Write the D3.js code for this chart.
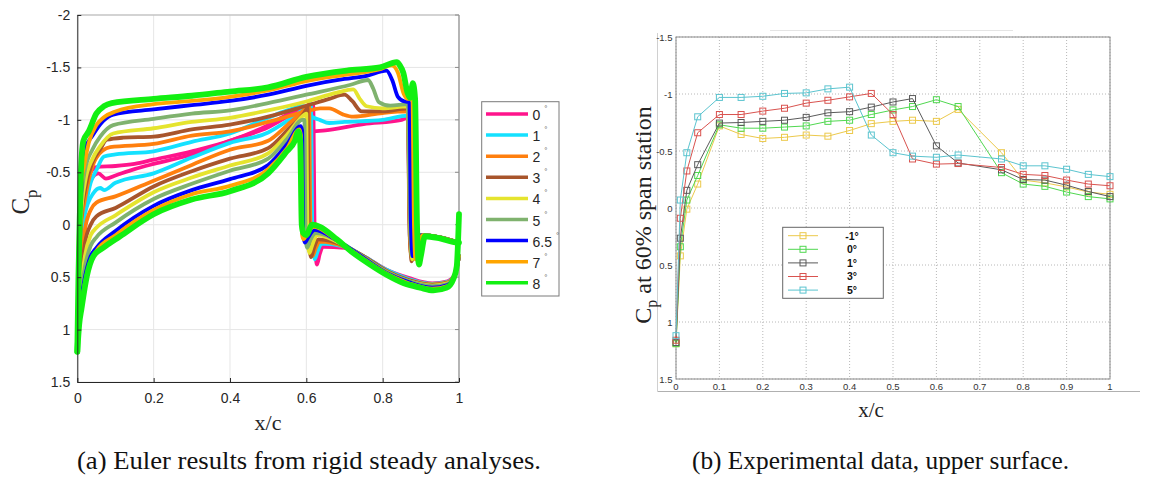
<!DOCTYPE html>
<html>
<head>
<meta charset="utf-8">
<script src="https://cdn.jsdelivr.net/npm/d3@7"></script>
<style>
  body { margin: 0; background: #fff; }
  svg { display: block; }
</style>
</head>
<body>
<svg id="fig" width="1156" height="482"></svg>
<script>
// ---------- (a) Euler results: Cp along x/c, one loop per angle of attack ----------
const eulerAngles = ["0", "1", "2", "3", "4", "5", "6.5", "7", "8"];
const eulerColors = ["#ff148c", "#14e1ff", "#ff7f0e", "#a8552c", "#e5e42e", "#7fb26e", "#0000ff", "#ffa500", "#12f012"];

// upper surface [x/c, Cp]
const upper0 = [[0,1.2],[0.004,0.6],[0.01,0.05],[0.02,-0.3],[0.035,-0.5],[0.05,-0.55],[0.1,-0.56],[0.15,-0.58],[0.2,-0.62],[0.3,-0.7],[0.4,-0.8],[0.5,-0.95],[0.55,-1.05],[0.6,-1.12],[0.607,-1.12],[0.615,-0.89],[0.65,-0.9],[0.75,-0.96],[0.85,-1.0],[0.866,-1.02],[0.871,0.1],[0.876,0.28],[0.882,0.2],[0.895,0.1],[0.95,0.12],[1.0,0.17]];
const upper1 = [[0,1.2],[0.004,0.55],[0.01,0.0],[0.02,-0.15],[0.035,-0.4],[0.05,-0.52],[0.07,-0.65],[0.1,-0.67],[0.2,-0.7],[0.3,-0.79],[0.4,-0.87],[0.5,-1.02],[0.55,-1.09],[0.59,-1.13],[0.605,-1.1],[0.615,-1.03],[0.635,-1.0],[0.66,-0.97],[0.7,-0.98],[0.8,-1.0],[0.866,-1.04],[0.871,0.1],[0.877,0.3],[0.884,0.2],[0.897,0.1],[0.95,0.12],[1.0,0.17]];
const upper2 = [[0,1.2],[0.004,0.5],[0.01,0.0],[0.02,-0.24],[0.035,-0.5],[0.05,-0.64],[0.086,-0.74],[0.2,-0.77],[0.3,-0.85],[0.4,-0.89],[0.5,-0.98],[0.6,-1.08],[0.636,-1.11],[0.66,-1.11],[0.697,-1.05],[0.723,-1.03],[0.8,-1.065],[0.866,-1.08],[0.87,0.0],[0.874,0.27],[0.882,0.2],[0.897,0.1],[0.95,0.12],[1.0,0.17]];
const upper3 = [[0,1.2],[0.004,0.45],[0.01,-0.05],[0.02,-0.33],[0.04,-0.6],[0.06,-0.72],[0.077,-0.81],[0.12,-0.83],[0.2,-0.84],[0.3,-0.91],[0.4,-0.955],[0.5,-1.03],[0.6,-1.135],[0.66,-1.2],[0.7,-1.24],[0.72,-1.18],[0.745,-1.08],[0.8,-1.08],[0.866,-1.11],[0.871,0.0],[0.876,0.35],[0.884,0.25],[0.9,0.1],[0.95,0.12],[1.0,0.17]];
const upper4 = [[0,1.2],[0.004,0.4],[0.01,-0.1],[0.02,-0.4],[0.04,-0.63],[0.06,-0.75],[0.094,-0.87],[0.2,-0.92],[0.3,-0.98],[0.4,-1.02],[0.5,-1.09],[0.6,-1.175],[0.68,-1.26],[0.723,-1.29],[0.74,-1.2],[0.758,-1.13],[0.8,-1.11],[0.866,-1.13],[0.872,0.0],[0.878,0.33],[0.886,0.22],[0.9,0.1],[0.95,0.12],[1.0,0.17]];
const upper5 = [[0,1.2],[0.004,0.3],[0.01,-0.2],[0.02,-0.52],[0.04,-0.72],[0.06,-0.84],[0.094,-0.95],[0.2,-1.01],[0.3,-1.06],[0.4,-1.09],[0.5,-1.16],[0.6,-1.24],[0.716,-1.335],[0.762,-1.38],[0.775,-1.3],[0.79,-1.17],[0.82,-1.135],[0.866,-1.15],[0.872,0.0],[0.877,0.3],[0.885,0.22],[0.9,0.1],[0.95,0.12],[1.0,0.17]];
const upper65 = [[0,1.2],[0.004,0.2],[0.01,-0.3],[0.02,-0.72],[0.04,-0.85],[0.068,-0.99],[0.094,-1.05],[0.2,-1.1],[0.3,-1.14],[0.4,-1.18],[0.5,-1.24],[0.6,-1.325],[0.7,-1.39],[0.758,-1.42],[0.81,-1.47],[0.825,-1.38],[0.84,-1.22],[0.858,-1.175],[0.87,-1.17],[0.874,0.0],[0.879,0.3],[0.887,0.22],[0.902,0.1],[0.95,0.12],[1.0,0.17]];
const upper7 = [[0,1.2],[0.004,0.1],[0.01,-0.35],[0.02,-0.6],[0.03,-0.78],[0.05,-0.95],[0.068,-1.02],[0.1,-1.08],[0.2,-1.15],[0.3,-1.18],[0.4,-1.22],[0.5,-1.28],[0.6,-1.37],[0.7,-1.43],[0.79,-1.48],[0.824,-1.52],[0.84,-1.45],[0.855,-1.25],[0.866,-1.2],[0.878,-1.2],[0.882,0.0],[0.886,0.33],[0.893,0.22],[0.905,0.1],[0.95,0.12],[1.0,0.17]];
const upper8 = [[0,1.21],[0.003,0.5],[0.006,0.0],[0.01,-0.55],[0.016,-0.8],[0.03,-0.89],[0.05,-1.06],[0.07,-1.13],[0.09,-1.16],[0.2,-1.2],[0.3,-1.23],[0.4,-1.27],[0.5,-1.31],[0.6,-1.41],[0.706,-1.47],[0.793,-1.5],[0.837,-1.55],[0.845,-1.52],[0.854,-1.45],[0.865,-1.26],[0.872,-1.21],[0.879,-1.35],[0.885,-1.2],[0.89,0.0],[0.895,0.38],[0.9,0.3],[0.911,0.11],[0.95,0.13],[0.995,0.17],[1.0,0.17]];

// lower surface [x/c, Cp]
const lower0 = [[0,1.2],[0.004,0.7],[0.01,0.2],[0.02,-0.2],[0.035,-0.42],[0.055,-0.49],[0.075,-0.44],[0.1,-0.47],[0.15,-0.53],[0.2,-0.58],[0.3,-0.67],[0.4,-0.8],[0.5,-0.93],[0.56,-1.05],[0.6,-1.13],[0.618,-1.14],[0.622,0.1],[0.628,0.38],[0.635,0.28],[0.645,0.21],[0.7,0.22],[0.75,0.3],[0.81,0.43],[0.87,0.51],[0.93,0.56],[0.97,0.54],[0.99,0.47],[1.0,0.3]];
const lower1 = [[0,1.2],[0.004,0.72],[0.01,0.3],[0.02,-0.1],[0.042,-0.3],[0.06,-0.35],[0.07,-0.33],[0.1,-0.4],[0.2,-0.49],[0.3,-0.64],[0.4,-0.78],[0.5,-0.88],[0.55,-0.99],[0.6,-1.12],[0.612,-1.15],[0.616,0.1],[0.622,0.33],[0.63,0.25],[0.64,0.18],[0.7,0.21],[0.75,0.3],[0.81,0.43],[0.87,0.52],[0.93,0.565],[0.97,0.545],[0.99,0.47],[1.0,0.3]];
const lower2 = [[0,1.2],[0.004,0.75],[0.01,0.4],[0.02,0.05],[0.035,-0.14],[0.05,-0.21],[0.1,-0.27],[0.2,-0.42],[0.3,-0.57],[0.4,-0.715],[0.5,-0.8],[0.55,-0.95],[0.6,-1.12],[0.607,-1.15],[0.611,0.1],[0.616,0.3],[0.625,0.22],[0.635,0.16],[0.7,0.21],[0.75,0.31],[0.81,0.44],[0.87,0.53],[0.93,0.57],[0.97,0.55],[0.99,0.47],[1.0,0.3]];
const lower3 = [[0,1.2],[0.004,0.8],[0.01,0.5],[0.02,0.18],[0.035,0.0],[0.05,-0.08],[0.1,-0.16],[0.2,-0.365],[0.3,-0.51],[0.4,-0.63],[0.5,-0.73],[0.55,-0.9],[0.6,-1.1],[0.603,-1.12],[0.607,0.1],[0.612,0.31],[0.62,0.22],[0.632,0.14],[0.7,0.2],[0.75,0.3],[0.81,0.44],[0.87,0.53],[0.93,0.575],[0.97,0.555],[0.99,0.47],[1.0,0.3]];
const lower4 = [[0,1.2],[0.004,0.85],[0.01,0.6],[0.02,0.3],[0.035,0.1],[0.05,0.03],[0.1,-0.09],[0.2,-0.31],[0.3,-0.45],[0.4,-0.565],[0.5,-0.68],[0.55,-0.86],[0.595,-1.05],[0.6,-1.06],[0.603,0.1],[0.608,0.27],[0.615,0.2],[0.628,0.1],[0.7,0.2],[0.75,0.31],[0.81,0.45],[0.87,0.54],[0.93,0.58],[0.97,0.56],[0.99,0.47],[1.0,0.3]];
const lower5 = [[0,1.2],[0.004,0.88],[0.01,0.65],[0.02,0.4],[0.035,0.2],[0.05,0.12],[0.1,-0.02],[0.2,-0.245],[0.3,-0.39],[0.4,-0.515],[0.5,-0.63],[0.55,-0.82],[0.59,-1.0],[0.595,-1.0],[0.598,0.1],[0.602,0.22],[0.61,0.15],[0.625,0.08],[0.7,0.19],[0.75,0.31],[0.81,0.45],[0.87,0.54],[0.93,0.585],[0.97,0.565],[0.99,0.47],[1.0,0.3]];
const lower65 = [[0,1.2],[0.004,0.9],[0.01,0.72],[0.02,0.5],[0.035,0.3],[0.05,0.22],[0.1,0.06],[0.2,-0.18],[0.3,-0.33],[0.4,-0.435],[0.5,-0.57],[0.55,-0.77],[0.585,-0.94],[0.589,-0.9],[0.592,0.1],[0.596,0.17],[0.605,0.12],[0.622,0.05],[0.68,0.15],[0.72,0.24],[0.81,0.46],[0.87,0.55],[0.93,0.6],[0.97,0.575],[0.99,0.47],[1.0,0.3]];
const lower7 = [[0,1.2],[0.004,0.92],[0.01,0.78],[0.02,0.55],[0.035,0.35],[0.05,0.25],[0.1,0.1],[0.2,-0.14],[0.3,-0.29],[0.4,-0.37],[0.5,-0.53],[0.55,-0.73],[0.582,-0.91],[0.586,-0.85],[0.589,0.1],[0.593,0.14],[0.6,0.1],[0.62,0.02],[0.68,0.15],[0.72,0.25],[0.81,0.465],[0.87,0.56],[0.93,0.61],[0.97,0.585],[0.99,0.47],[1.0,0.3]];
const lower8 = [[0,1.21],[0.005,0.95],[0.011,0.8],[0.025,0.49],[0.042,0.3],[0.068,0.22],[0.112,0.11],[0.2,-0.1],[0.3,-0.24],[0.4,-0.32],[0.5,-0.49],[0.549,-0.7],[0.57,-0.8],[0.579,-0.89],[0.584,-0.8],[0.588,0.0],[0.592,0.08],[0.6,0.1],[0.615,0.0],[0.636,0.02],[0.68,0.14],[0.723,0.27],[0.767,0.38],[0.81,0.477],[0.854,0.556],[0.898,0.6],[0.933,0.626],[0.968,0.6],[0.985,0.52],[0.994,0.4],[1.0,-0.1]];

const eulerUpper = [upper0, upper1, upper2, upper3, upper4, upper5, upper65, upper7, upper8];
const eulerLower = [lower0, lower1, lower2, lower3, lower4, lower5, lower65, lower7, lower8];

const xTicksA = [0, 0.2, 0.4, 0.6, 0.8, 1];
const yTicksA = [-2, -1.5, -1, -0.5, 0, 0.5, 1, 1.5];

// ---------- (b) Experimental data, upper surface ----------
const expX = [0, 0.01, 0.025, 0.05, 0.1, 0.15, 0.2, 0.25, 0.3, 0.35, 0.4, 0.45, 0.5, 0.545, 0.6, 0.65, 0.75, 0.8, 0.85, 0.9, 0.95, 1.0];
const expLabels = ["-1°", "0°", "1°", "3°", "5°"];
const expColors = ["#ecc94b", "#50d850", "#5a5a5a", "#d9534f", "#5bc4cf"];
const cpMinus1 = [1.19, 0.42, 0.01, -0.21, -0.72, -0.645, -0.61, -0.62, -0.64, -0.63, -0.68, -0.74, -0.76, -0.77, -0.76, -0.865, -0.485, -0.245, -0.22, -0.185, -0.14, -0.12];
const cpZero = [1.19, 0.34, -0.07, -0.285, -0.73, -0.70, -0.70, -0.71, -0.72, -0.76, -0.77, -0.82, -0.86, -0.89, -0.95, -0.89, -0.31, -0.21, -0.19, -0.14, -0.10, -0.08];
const cpOne = [1.18, 0.265, -0.155, -0.38, -0.745, -0.75, -0.76, -0.77, -0.795, -0.835, -0.845, -0.885, -0.93, -0.96, -0.545, -0.395, -0.335, -0.25, -0.245, -0.20, -0.145, -0.10];
const cpThree = [1.16, 0.09, -0.325, -0.66, -0.82, -0.82, -0.85, -0.875, -0.92, -0.945, -0.975, -1.005, -0.82, -0.43, -0.385, -0.39, -0.355, -0.295, -0.285, -0.245, -0.21, -0.195];
const cpFive = [1.12, -0.07, -0.485, -0.80, -0.97, -0.97, -0.98, -1.005, -1.01, -1.045, -1.06, -0.64, -0.485, -0.455, -0.445, -0.465, -0.43, -0.37, -0.37, -0.34, -0.295, -0.275];
const expSeries = [cpMinus1, cpZero, cpOne, cpThree, cpFive];

const xTicksB = [0, 0.1, 0.2, 0.3, 0.4, 0.5, 0.6, 0.7, 0.8, 0.9, 1];
const yTicksB = [-1.5, -1, -0.5, 0, 0.5, 1, 1.5];

// ---------------------------------------------------------------------------
const svg = d3.select("#fig");
svg.append("rect").attr("width", 1156).attr("height", 482).attr("fill", "#fff");

const sans = "'Liberation Sans', Arial, sans-serif";
const serif = "'Liberation Serif', 'Times New Roman', serif";
const fmt = d => String(d);

// ===== Panel (a) =====
const xA = d3.scaleLinear().domain([0, 1]).range([77.3, 459]);
const yA = d3.scaleLinear().domain([-2, 1.5]).range([15, 382]);
const gA = svg.append("g");

// grid
gA.append("g").selectAll("line").data(xTicksA).join("line")
  .attr("x1", d => xA(d)).attr("x2", d => xA(d))
  .attr("y1", yA(-2)).attr("y2", yA(1.5))
  .attr("stroke", "#e6e6e6").attr("stroke-width", 1);
gA.append("g").selectAll("line").data(yTicksA).join("line")
  .attr("x1", xA(0)).attr("x2", xA(1))
  .attr("y1", d => yA(d)).attr("y2", d => yA(d))
  .attr("stroke", "#e6e6e6").attr("stroke-width", 1);

// box edges (top / right)
gA.append("line").attr("x1", xA(0)).attr("x2", xA(1)).attr("y1", yA(-2)).attr("y2", yA(-2))
  .attr("stroke", "#b3b3b3").attr("stroke-width", 1);
gA.append("line").attr("x1", xA(1)).attr("x2", xA(1)).attr("y1", yA(-2)).attr("y2", yA(1.5))
  .attr("stroke", "#a6a6a6").attr("stroke-width", 1.6);
gA.append("g").selectAll("line").data(yTicksA).join("line")
  .attr("x1", xA(1) - 4).attr("x2", xA(1))
  .attr("y1", d => yA(d)).attr("y2", d => yA(d))
  .attr("stroke", "#8c8c8c");

// curves
const lineA = d3.line().x(d => xA(d[0])).y(d => yA(d[1])).curve(d3.curveMonotoneX);
eulerAngles.forEach((a, i) => {
  const w = i === 8 ? 5.8 : 3.8;
  [eulerLower[i], eulerUpper[i]].forEach(surf => {
    gA.append("path").datum(surf)
      .attr("d", lineA)
      .attr("fill", "none")
      .attr("stroke", eulerColors[i])
      .attr("stroke-width", w)
      .attr("stroke-linejoin", "round")
      .attr("stroke-linecap", "round");
  });
});

// axes
const axLeftA = gA.append("g").attr("transform", `translate(${xA(0)},0)`)
  .call(d3.axisLeft(yA).tickValues(yTicksA).tickFormat(fmt).tickSizeInner(-4).tickSizeOuter(0).tickPadding(7));
const axBotA = gA.append("g").attr("transform", `translate(0,${yA(1.5)})`)
  .call(d3.axisBottom(xA).tickValues(xTicksA).tickFormat(fmt).tickSizeInner(-4).tickSizeOuter(0).tickPadding(11));
[axLeftA, axBotA].forEach(ax => {
  ax.select(".domain").attr("stroke", "#262626");
  ax.selectAll(".tick line").attr("stroke", "#262626");
  ax.selectAll("text").attr("fill", "#262626").attr("font-family", sans).attr("font-size", 14);
});

// axis titles
gA.append("text").attr("x", 268).attr("y", 430).attr("text-anchor", "middle")
  .attr("font-family", serif).attr("font-size", 22).attr("fill", "#262626").text("x/c");
const cpA = gA.append("text").attr("transform", "translate(29,202) rotate(-90)")
  .attr("text-anchor", "middle").attr("font-family", serif).attr("fill", "#262626");
cpA.append("tspan").attr("font-size", 25).text("C");
cpA.append("tspan").attr("font-size", 17).attr("dy", 8).text("p");

// legend
const legA = gA.append("g");
legA.append("rect").attr("x", 481.7).attr("y", 101.7).attr("width", 77.3).attr("height", 194.3)
  .attr("fill", "#fff").attr("stroke", "#7a7a7a").attr("stroke-width", 1);
eulerAngles.forEach((a, i) => {
  const y = 114 + i * 21.1;
  legA.append("line").attr("x1", 486).attr("x2", 528).attr("y1", y).attr("y2", y)
    .attr("stroke", eulerColors[i]).attr("stroke-width", 3.5);
  const t = legA.append("text").attr("x", 532.5).attr("y", y + 6)
    .attr("font-family", sans).attr("font-size", 14).attr("fill", "#262626");
  t.append("tspan").text(a);
  t.append("tspan").attr("font-size", 8).attr("dx", 4).attr("dy", -9).attr("fill", "#555").text("°");
});

// caption
svg.append("text").attr("x", 77).attr("y", 469).attr("font-family", serif).attr("font-size", 26)
  .attr("textLength", 464).attr("lengthAdjust", "spacingAndGlyphs").attr("fill", "#111")
  .text("(a) Euler results from rigid steady analyses.");

// ===== Panel (b) =====
const xB = d3.scaleLinear().domain([0, 1]).range([676, 1110]);
const yB = d3.scaleLinear().domain([-1.5, 1.5]).range([37, 379]);
const gB = svg.append("g");

// frame of the figure region
gB.append("line").attr("x1", 657.5).attr("x2", 1140).attr("y1", 391.5).attr("y2", 391.5)
  .attr("stroke", "#b0b0b0").attr("stroke-width", 1);
gB.append("line").attr("x1", 657.5).attr("x2", 657.5).attr("y1", 33).attr("y2", 391.5)
  .attr("stroke", "#d0d0d0").attr("stroke-width", 1);
gB.append("line").attr("x1", 770).attr("x2", 1013).attr("y1", 30.5).attr("y2", 30.5)
  .attr("stroke", "#e4e4e4").attr("stroke-width", 1);

// dotted grid
gB.append("g").selectAll("line").data(xTicksB).join("line")
  .attr("x1", d => xB(d)).attr("x2", d => xB(d)).attr("y1", yB(-1.5)).attr("y2", yB(1.5))
  .attr("stroke", "#b8b8b8").attr("stroke-dasharray", "1,2");
gB.append("g").selectAll("line").data(yTicksB).join("line")
  .attr("x1", xB(0)).attr("x2", xB(1)).attr("y1", d => yB(d)).attr("y2", d => yB(d))
  .attr("stroke", "#b8b8b8").attr("stroke-dasharray", "1,2");

// plot box
gB.append("rect").attr("x", xB(0)).attr("y", yB(-1.5))
  .attr("width", xB(1) - xB(0)).attr("height", yB(1.5) - yB(-1.5))
  .attr("fill", "none").attr("stroke", "#8a8a8a").attr("stroke-width", 1);

// tick labels
gB.append("g").selectAll("text").data(yTicksB).join("text")
  .attr("x", 672.5).attr("y", d => yB(d) + 3.5).attr("text-anchor", "end")
  .attr("font-family", sans).attr("font-size", 9.5).attr("fill", "#333").text(fmt);
gB.append("g").selectAll("text").data(xTicksB).join("text")
  .attr("x", d => xB(d)).attr("y", 390).attr("text-anchor", "middle")
  .attr("font-family", sans).attr("font-size", 9.5).attr("fill", "#333").text(fmt);

// series
const lineB = d3.line().x((d, i) => xB(expX[i])).y(d => yB(d));
expSeries.forEach((s, k) => {
  const g = gB.append("g");
  g.append("path").datum(s).attr("d", lineB).attr("fill", "none")
    .attr("stroke", expColors[k]).attr("stroke-width", 1);
  g.selectAll("rect").data(s).join("rect")
    .attr("x", (d, i) => xB(expX[i]) - 3).attr("y", d => yB(d) - 3)
    .attr("width", 6).attr("height", 6)
    .attr("fill", "none").attr("stroke", expColors[k]).attr("stroke-width", 1);
});

// legend
const legB = gB.append("g");
legB.append("rect").attr("x", 782.7).attr("y", 227.3).attr("width", 100.6).attr("height", 71)
  .attr("fill", "#fff").attr("stroke", "#666").attr("stroke-width", 1);
expLabels.forEach((lab, k) => {
  const y = 235.7 + k * 13.6;
  legB.append("line").attr("x1", 788).attr("x2", 818).attr("y1", y).attr("y2", y)
    .attr("stroke", expColors[k]).attr("stroke-width", 1);
  legB.append("rect").attr("x", 800).attr("y", y - 3).attr("width", 6).attr("height", 6)
    .attr("fill", "none").attr("stroke", expColors[k]).attr("stroke-width", 1);
  legB.append("text").attr("x", 852).attr("y", y + 3.8).attr("text-anchor", "middle")
    .attr("font-family", sans).attr("font-size", 10.5).attr("font-weight", "bold")
    .attr("fill", "#111").text(lab);
});

// axis titles
gB.append("text").attr("x", 871).attr("y", 417).attr("text-anchor", "middle")
  .attr("font-family", serif).attr("font-size", 21).attr("fill", "#222").text("x/c");
const cpB = gB.append("text").attr("transform", "translate(651,215) rotate(-90)")
  .attr("text-anchor", "middle").attr("font-family", serif).attr("font-size", 24).attr("fill", "#222");
cpB.append("tspan").text("C");
cpB.append("tspan").attr("font-size", 16).attr("dy", 6).text("p");
cpB.append("tspan").attr("dy", -6).text(" at 60% span station");

// caption
svg.append("text").attr("x", 692).attr("y", 469).attr("font-family", serif).attr("font-size", 26)
  .attr("textLength", 377).attr("lengthAdjust", "spacingAndGlyphs").attr("fill", "#111")
  .text("(b) Experimental data, upper surface.");
</script>
</body>
</html>
